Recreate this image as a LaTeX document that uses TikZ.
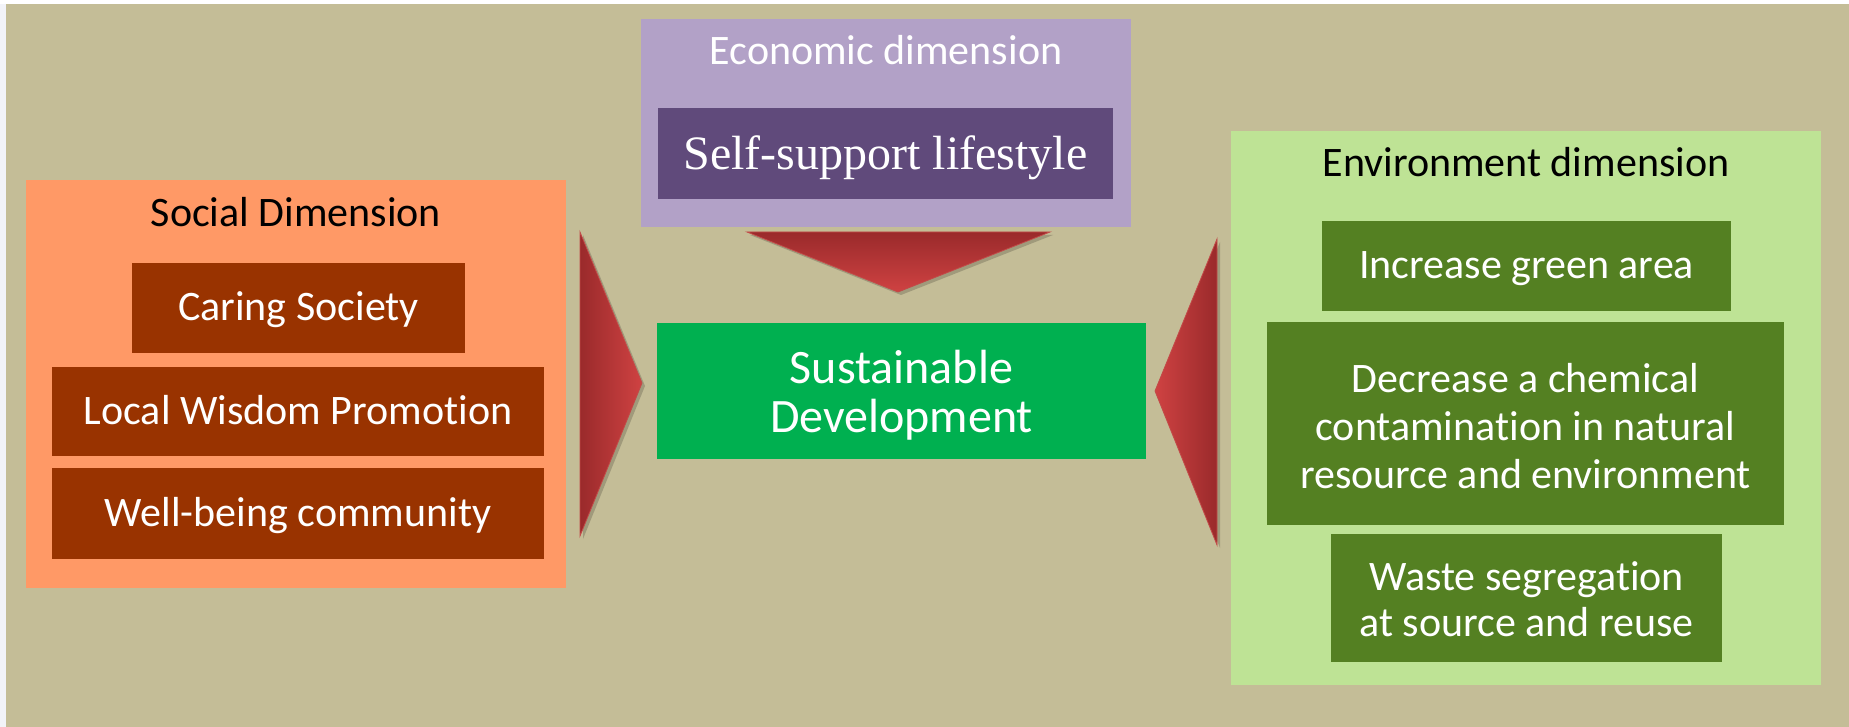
\documentclass[tikz,border=0pt]{standalone}
\usepackage{fontspec}
\setmainfont{Carlito}[Ligatures=NoCommon]
\newfontfamily\tnrfont{Liberation Serif}
\usetikzlibrary{fit}
\definecolor{stripcol}{HTML}{F2F3F8}
\definecolor{bgtan}{HTML}{C4BD97}
\definecolor{socialbg}{HTML}{FF9966}
\definecolor{brownbox}{HTML}{993300}
\definecolor{econbg}{HTML}{B2A1C7}
\definecolor{econbox}{HTML}{604A7B}
\definecolor{sdgreen}{HTML}{00B050}
\definecolor{envbg}{HTML}{BEE395}
\definecolor{envbox}{HTML}{548022}
\definecolor{arrdark}{HTML}{9A2A2B}
\definecolor{arrlight}{HTML}{CF4242}
\definecolor{arredge}{HTML}{C24A48}
\begin{document}
\begin{tikzpicture}[x=0.5pt,y=-0.5pt,
  panel/.style={inner sep=0pt, draw=none},
  item/.style={inner sep=0pt, text=white, anchor=base, font=\fontsize{21}{24}\selectfont},
  itemml/.style={inner sep=0pt, text=white, align=center, font=\fontsize{21}{24}\selectfont},
  titletext/.style={anchor=base, inner sep=0pt, font=\fontsize{21}{25}\selectfont},
  arrshadow/.style={fill=black, opacity=0.18},
  arrowshape/.style={draw=arredge, line width=0.4pt, line join=miter}
]
\useasboundingbox (0,0) rectangle (1849,727);
\fill[stripcol] (0,0) rectangle (1849,727);
\fill[white] (0,0) rectangle (1849,4);
\fill[bgtan] (6,4) rectangle (1849,727);

% Social dimension
\node[panel, fill=socialbg, fit={(26,180) (566,588)}] (social) {};
\node[titletext, text=black] (socialt) at (296,227) {Social Dimension};
\node[panel, fill=brownbox, fit={(132,263) (465,353)}] (caring) {};
\node[item] (caringt) at ([yshift=-6.5pt]caring.center) {Caring Society};
\node[panel, fill=brownbox, fit={(52,367) (544,456)}] (wisdom) {};
\node[item] (wisdomt) at ([yshift=-6.5pt]wisdom.center) {Local Wisdom Promotion};
\node[panel, fill=brownbox, fit={(52,468) (544,559)}] (wellbeing) {};
\node[item] (wellbeingt) at ([yshift=-6.5pt]wellbeing.center) {Well-being community};

% Economic dimension
\node[panel, fill=econbg, fit={(641,19) (1131,227)}] (econ) {};
\node[titletext, text=white] (econt) at (886,65) {Economic dimension};
\node[panel, fill=econbox, fit={(658,108) (1113,199)}] (self) {};
\node[item, font=\tnrfont\fontsize{24}{28}\selectfont] (selft) at ([yshift=-8pt]self.center) {Self-support lifestyle};

% Sustainable development
\node[panel, fill=sdgreen, fit={(657,323) (1146,459)}] (sd) {};
\node[itemml, font=\fontsize{24}{24.5}\selectfont] (sdt) at ([yshift=-2pt]sd.center) {Sustainable\\Development};

% Environment dimension
\node[panel, fill=envbg, fit={(1231,131) (1821,685)}] (env) {};
\node[titletext, text=black] (envt) at (1526,177) {Environment dimension};
\node[panel, fill=envbox, fit={(1322,221) (1731,311)}] (green) {};
\node[item] (greent) at ([yshift=-6.5pt]green.center) {Increase green area};
\node[panel, fill=envbox, fit={(1267,322) (1784,525)}] (chem) {};
\node[itemml] (chemt) at ([yshift=-1.5pt]chem.center) {Decrease a chemical\\contamination in natural\\resource and environment};
\node[panel, fill=envbox, fit={(1331,534) (1722,662)}] (waste) {};
\node[itemml, font=\fontsize{21}{23}\selectfont] (wastet) at ([yshift=-0.5pt]waste.center) {Waste segregation\\at source and reuse};

% Arrows (block shapes)
\fill[arrshadow] (583,235) -- (645,386) -- (583,539) -- cycle;
\shade[arrowshape, left color=arrdark, right color=arrlight] (580,232) -- (642,383) -- (580,536) -- cycle;

\fill[arrshadow] (750,235) -- (1053,235) -- (901,295) -- cycle;
\shade[arrowshape, top color=arrdark, bottom color=arrlight] (747,232) -- (1050,232) -- (898,292) -- cycle;

\fill[arrshadow] (1220,242) -- (1158,394) -- (1220,548) -- cycle;
\shade[arrowshape, left color=arrlight, right color=arrdark] (1217,239) -- (1155,391) -- (1217,545) -- cycle;
\end{tikzpicture}
\end{document}
